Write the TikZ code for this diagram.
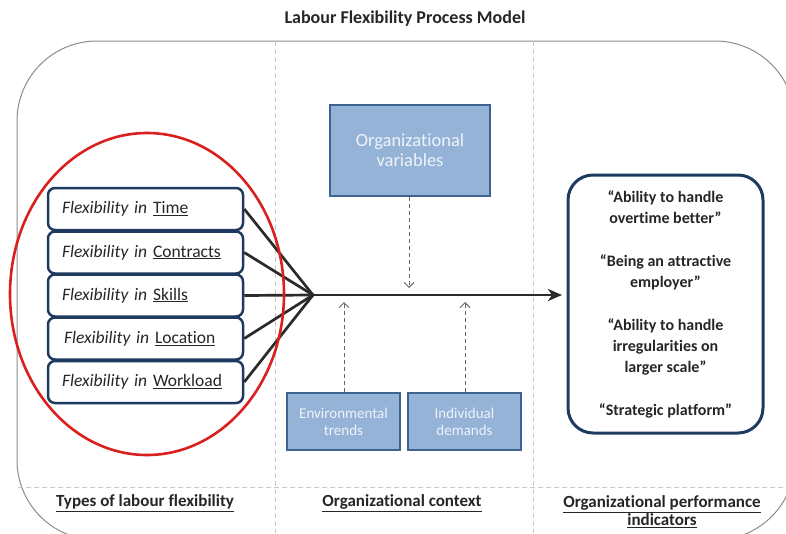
\documentclass[tikz,border=0pt]{standalone}
\usepackage{fontspec}
\setmainfont{Carlito}[Ligatures=NoCommon]
\usetikzlibrary{arrows.meta,shapes.geometric}
\definecolor{navy}{HTML}{1F3A5F}
\definecolor{bluefill}{HTML}{95B3D7}
\definecolor{blueedge}{HTML}{3F6391}
\definecolor{paletext}{HTML}{EEF3FA}
\definecolor{framegray}{HTML}{8C8C8C}
\definecolor{divgray}{HTML}{C8C8C8}
\definecolor{linegray}{HTML}{2B2B2B}
\definecolor{redring}{HTML}{D9201F}
\tikzset{
  flexbox/.style={draw=navy, line width=2.5pt, rounded corners=7pt, fill=white,
    text width=167pt, inner xsep=14pt, minimum height=42pt, align=left,
    font=\fontsize{17.5}{20}\selectfont, text=black!85},
  bluebox/.style={draw=blueedge, line width=2pt, fill=bluefill, text=paletext, align=center},
  outbox/.style={draw=navy, line width=3pt, rounded corners=25pt, fill=white,
    minimum width=195pt, minimum height=258pt, align=center,
    font=\bfseries\fontsize{16}{21}\selectfont, text=black!85},
  fan/.style={draw=linegray, line width=2.7pt},
  dasharrow/.style={draw=black!60, dashed, dash pattern=on 4pt off 3pt, line width=0.9pt,
    -{Straight Barb[length=5pt,width=10pt]}},
  divider/.style={draw=divgray, dash pattern=on 5pt off 3pt, line width=0.8pt},
  collabel/.style={font=\bfseries\fontsize{17}{18}\selectfont, align=center, text=black!85}
}
\begin{document}
\begin{tikzpicture}[x=1pt,y=-1pt]
\useasboundingbox (0,0) rectangle (786,533);
\begin{scope}
\clip (0,0) rectangle (786,533);
% outer frame
\draw[framegray, line width=1pt, rounded corners=80pt] (17,41) rectangle (795,540);
% dividers
\draw[divider] (275,41) -- (275,533);
\draw[divider] (533,41) -- (533,533);
\draw[divider] (18,487) -- (792,487);
\end{scope}
% title
\node[font=\bfseries\fontsize{18}{20}\selectfont, text=black!85] (title) at (405,19) {Labour Flexibility Process Model};
% flexibility boxes
\node[flexbox] (f1) at (145.5,209) {{\itshape Flexibility in} \underline{Time}};
\node[flexbox] (f2) at (145.5,252.5) {{\itshape Flexibility in} \underline{Contracts}};
\node[flexbox] (f3) at (145.5,295.5) {{\itshape Flexibility in} \underline{Skills}};
\node[flexbox] (f4) at (145.5,338.5) {\hspace{2pt}{\itshape Flexibility in} \underline{Location}};
\node[flexbox] (f5) at (145.5,382) {{\itshape Flexibility in} \underline{Workload}};
% convergence
\coordinate (conv) at (313,295);
\coordinate (tip) at (562,295);
\foreach \n in {f1,f2,f3,f4,f5} { \draw[fan] (\n.east) -- (conv); }
\draw[fan, -{Stealth[length=14pt,width=12pt,inset=4pt]}] (conv) -- (tip);
% context boxes
\node[bluebox, minimum width=160pt, minimum height=91pt, font=\fontsize{18.5}{20}\selectfont] (ov) at (410,150.5) {Organizational\\variables};
\node[bluebox, minimum width=113pt, minimum height=57pt, font=\fontsize{15}{17}\selectfont] (env) at (343.5,421.5) {Environmental\\trends};
\node[bluebox, minimum width=113pt, minimum height=57pt, font=\fontsize{15}{17}\selectfont] (ind) at (464.5,421.5) {Individual\\demands};
\coordinate (ovtip) at (409,288);
\coordinate (envtip) at (344,302);
\coordinate (indtip) at (465,302);
\draw[dasharrow] (ov.south -| ovtip) -- (ovtip);
\draw[dasharrow] (env.north -| envtip) -- (envtip);
\draw[dasharrow] (ind.north -| indtip) -- (indtip);
% performance box
\node[outbox] (perf) at (665.5,304) {“Ability to handle\\overtime better"\\[22pt]“Being an attractive\\employer”\\[22pt]“Ability to handle\\irregularities on\\larger scale”\\[22pt]“Strategic platform”};
% red ellipse
\node[draw=redring, line width=2.6pt, ellipse, minimum width=274pt, minimum height=322pt, inner sep=0pt] (ring) at (147,294) {};
% column labels
\node[collabel] (c1) at (145,503) {\underline{Types of labour flexibility}};
\node[collabel] (c2) at (402,503) {\underline{Organizational context}};
\node[collabel] (c3) at (662,512) {\underline{Organizational performance}\\\underline{indicators}};
\end{tikzpicture}
\end{document}
